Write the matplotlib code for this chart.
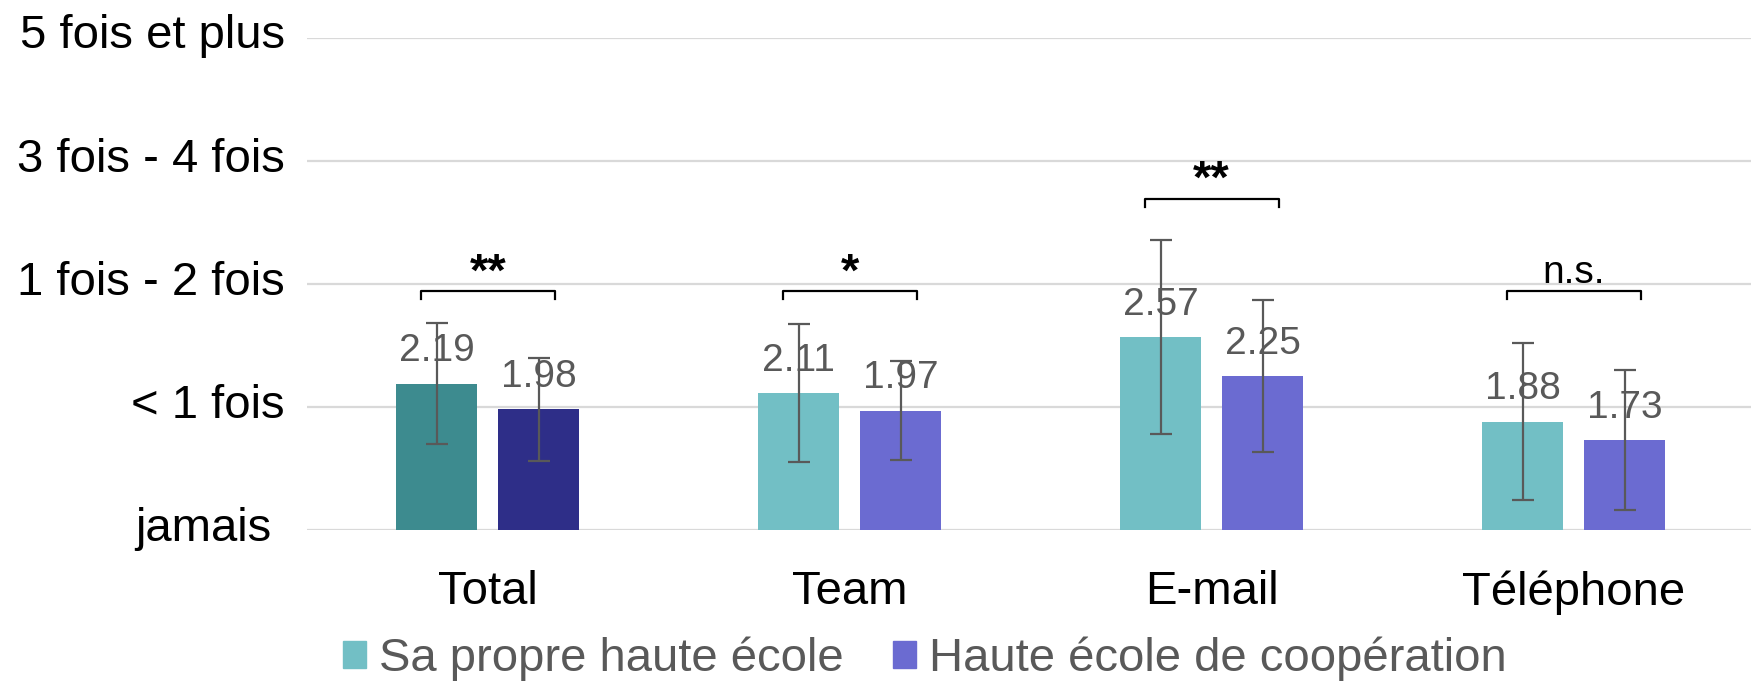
import numpy as np
import matplotlib
matplotlib.use("Agg")
import matplotlib.pyplot as plt
import matplotlib.transforms as mtransforms
from matplotlib.patches import Patch

plt.rcParams['font.family'] = ['Liberation Sans', 'DejaVu Sans']

# data
categories = ['Total', 'Team', 'E-mail', 'Téléphone']
series_names = ['Sa propre haute école', 'Haute école de coopération']
own_means = [2.19, 2.11, 2.57, 1.88]
coop_means = [1.98, 1.97, 2.25, 1.73]
own_sd = [0.49, 0.56, 0.79, 0.64]
coop_sd = [0.42, 0.40, 0.62, 0.57]
significance = ['**', '*', '**', 'n.s.']
bracket_level = [2.94, 2.94, 3.69, 2.94]
y_labels = ['jamais ', '< 1 fois', '1 fois - 2 fois', '3 fois - 4 fois', '5 fois et plus']

own_colors = ['#3d8b8f', '#72bfc5', '#72bfc5', '#72bfc5']
coop_colors = ['#2e2e88', '#6b6bd1', '#6b6bd1', '#6b6bd1']
err_color = '#595959'

fig = plt.figure(figsize=(17.51, 6.86), dpi=100)
ax = fig.add_axes([0.1753, 0.2274, 0.8247, 0.7176])

x = np.arange(len(categories))
w = 0.224
off = 0.141

ax.bar(x - off, own_means, w, color=own_colors, zorder=2)
ax.bar(x + off, coop_means, w, color=coop_colors, zorder=2)
ax.errorbar(x - off, own_means, yerr=own_sd, fmt='none', ecolor=err_color,
            elinewidth=1.6, capsize=8, capthick=1.6, zorder=3)
ax.errorbar(x + off, coop_means, yerr=coop_sd, fmt='none', ecolor=err_color,
            elinewidth=1.6, capsize=8, capthick=1.6, zorder=3)

# value labels above the bars
for xs, means in [(x - off, own_means), (x + off, coop_means)]:
    for xi, v in zip(xs, means):
        ax.annotate(f'{v:.2f}', (xi, v), xytext=(0, 16), textcoords='offset points',
                    ha='center', va='baseline', fontsize=28, color='#595959', zorder=4)

# significance brackets
for xi, lvl, s in zip(x, bracket_level, significance):
    ax.plot([xi - 0.185, xi - 0.185, xi + 0.185, xi + 0.185],
            [lvl - 0.065, lvl, lvl, lvl - 0.065], color='black', lw=1.6, zorder=4)
    if s == 'n.s.':
        ax.annotate(s, (xi, lvl), xytext=(0, 0), textcoords='offset points',
                    ha='center', va='bottom', fontsize=28, color='black')
    else:
        ax.annotate(s, (xi, lvl), xytext=(0, -3), textcoords='offset points',
                    ha='center', va='bottom', fontsize=34, fontweight='bold', color='black')

ax.set_ylim(1, 5)
ax.set_xlim(-0.5, 3.49)
ax.set_yticks([1, 2, 3, 4, 5])
ax.set_yticklabels(y_labels)
ax.grid(axis='y', color='#d9d9d9', lw=1.6, zorder=0)
ax.set_xticks(x)
ax.set_xticklabels(categories)
ax.tick_params(axis='y', length=0, pad=16, labelsize=34)
ax.tick_params(axis='x', length=0, pad=29, labelsize=34)
for sp in ax.spines.values():
    sp.set_visible(False)

# nudge y labels up a little, like the original
shift = mtransforms.ScaledTranslation(0, 4.5 / 72, fig.dpi_scale_trans)
for lab in ax.get_yticklabels():
    lab.set_transform(lab.get_transform() + shift)

handles = [Patch(color='#72bfc5'), Patch(color='#6b6bd1')]
fig.legend(handles, series_names, loc='center', bbox_to_anchor=(0.528, 0.04),
           ncol=2, frameon=False, fontsize=34, labelcolor='#595959',
           handlelength=0.5, handleheight=0.5, handletextpad=0.26, columnspacing=1.05,
           borderpad=0, borderaxespad=0)

fig.savefig('out.png', dpi=100)
